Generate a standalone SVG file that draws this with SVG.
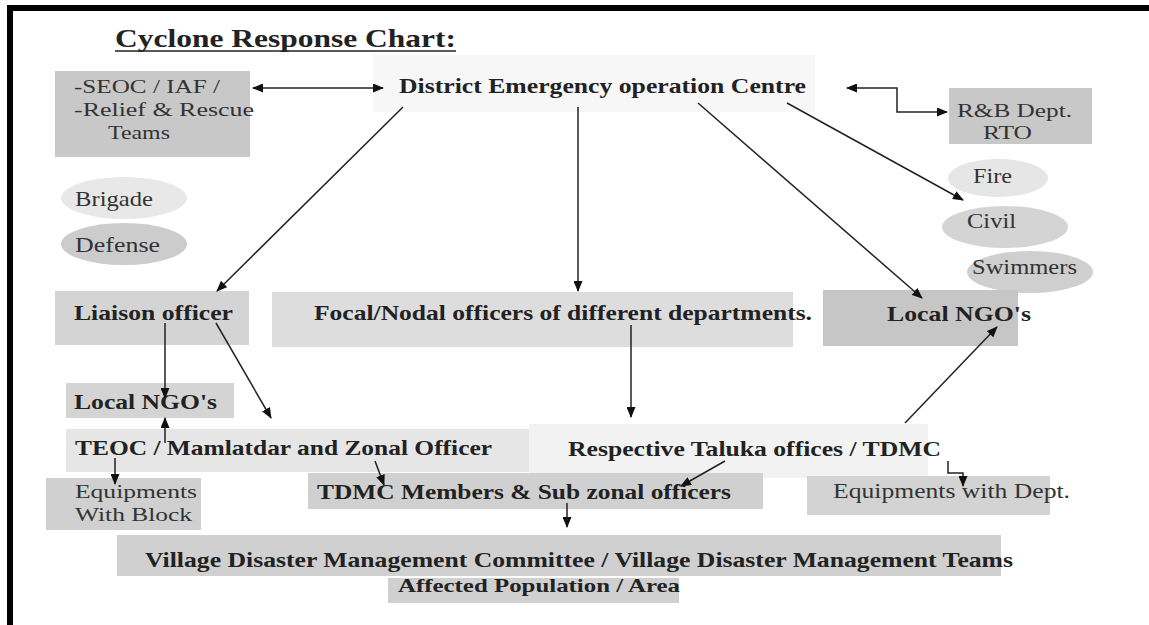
<svg xmlns="http://www.w3.org/2000/svg" width="1149" height="625" viewBox="0 0 1149 625">
<style>
text{font-family:"Liberation Serif","Times New Roman",serif;font-size:21px;fill:#333}
.b{font-weight:bold;fill:#222}
.s{font-size:19px}
.c{stroke:#222;stroke-width:1.5;fill:none}
</style>
<defs>
<marker id="ah" markerWidth="11" markerHeight="9" refX="10" refY="4.5" orient="auto-start-reverse" markerUnits="userSpaceOnUse">
<path d="M0,0 L11,4.5 L0,9 z" fill="#111"/>
</marker>
</defs>
<rect width="1149" height="625" fill="#fff"/>
<rect x="7" y="5" width="1142" height="6" fill="#000"/>
<rect x="7" y="5" width="6" height="620" fill="#000"/>
<g id="title">
<text class="b" x="115" y="47" style="font-size:25px" textLength="341" lengthAdjust="spacingAndGlyphs">Cyclone Response Chart:</text>
<line x1="115" y1="51" x2="456" y2="51" stroke="#222" stroke-width="1.6"/>
</g>
<g id="seoc">
<rect x="55" y="71" width="195" height="86" fill="#c8c8c8"/>
<text class="s" x="74" y="93" textLength="146" lengthAdjust="spacingAndGlyphs">-SEOC / IAF /</text>
<text class="s" x="74" y="116" textLength="180" lengthAdjust="spacingAndGlyphs">-Relief &amp; Rescue</text>
<text class="s" x="108" y="139" textLength="62" lengthAdjust="spacingAndGlyphs">Teams</text>
</g>
<g id="deoc">
<rect x="373" y="55" width="442" height="57" fill="#f7f7f7"/>
<text class="b" x="399" y="93" textLength="407" lengthAdjust="spacingAndGlyphs">District Emergency operation Centre</text>
</g>
<g id="rb">
<rect x="949" y="88" width="143" height="56" fill="#c8c8c8"/>
<text class="s" x="957" y="117" textLength="115" lengthAdjust="spacingAndGlyphs">R&amp;B Dept.</text>
<text class="s" x="983" y="139" textLength="49" lengthAdjust="spacingAndGlyphs">RTO</text>
</g>
<g id="fire">
<ellipse cx="998" cy="178" rx="50" ry="19" fill="#e6e6e6"/>
<text x="973" y="183" textLength="39" lengthAdjust="spacingAndGlyphs">Fire</text>
</g>
<g id="civil">
<ellipse cx="1005" cy="227" rx="63" ry="21" fill="#d4d4d4"/>
<text x="967" y="228" textLength="49" lengthAdjust="spacingAndGlyphs">Civil</text>
</g>
<g id="swimmers">
<ellipse cx="1030" cy="272" rx="63" ry="21" fill="#cfcfcf"/>
<text x="972" y="274" textLength="105" lengthAdjust="spacingAndGlyphs">Swimmers</text>
</g>
<g id="brigade">
<ellipse cx="124" cy="198" rx="63" ry="21" fill="#e8e8e8"/>
<text x="75" y="206" textLength="78" lengthAdjust="spacingAndGlyphs">Brigade</text>
</g>
<g id="defense">
<ellipse cx="124" cy="244" rx="63" ry="21" fill="#cccccc"/>
<text x="75" y="252" textLength="85" lengthAdjust="spacingAndGlyphs">Defense</text>
</g>
<g id="liaison">
<rect x="55" y="291" width="194" height="54" fill="#d4d4d4"/>
<text class="b" x="74" y="320" textLength="159" lengthAdjust="spacingAndGlyphs">Liaison officer</text>
</g>
<g id="focal">
<rect x="272" y="292" width="521" height="55" fill="#dddddd"/>
<text class="b" x="314" y="320" textLength="498" lengthAdjust="spacingAndGlyphs">Focal/Nodal officers of different departments.</text>
</g>
<g id="ngo-right">
<rect x="823" y="290" width="195" height="56" fill="#c6c6c6"/>
<text class="b" x="887" y="321" textLength="144" lengthAdjust="spacingAndGlyphs">Local NGO's</text>
</g>
<g id="ngo-left">
<rect x="66" y="383" width="168" height="35" fill="#d4d4d4"/>
<text class="b" x="74" y="409" textLength="143" lengthAdjust="spacingAndGlyphs">Local NGO's</text>
</g>
<g id="teoc">
<rect x="66" y="429" width="465" height="43" fill="#e6e6e6"/>
<text class="b" x="75" y="455" textLength="417" lengthAdjust="spacingAndGlyphs">TEOC / Mamlatdar and Zonal Officer</text>
</g>
<g id="taluka">
<rect x="529" y="424" width="399" height="54" fill="#f2f2f2"/>
<text class="b" x="568" y="456" textLength="373" lengthAdjust="spacingAndGlyphs">Respective Taluka offices / TDMC</text>
</g>
<g id="equip-block">
<rect x="46" y="478" width="155" height="52" fill="#d0d0d0"/>
<text class="s" x="75" y="498" textLength="122" lengthAdjust="spacingAndGlyphs">Equipments</text>
<text class="s" x="75" y="521" textLength="117" lengthAdjust="spacingAndGlyphs">With Block</text>
</g>
<g id="tdmc">
<rect x="308" y="473" width="455" height="36" fill="#d0d0d0"/>
<text class="b" x="317" y="499" textLength="414" lengthAdjust="spacingAndGlyphs">TDMC Members &amp; Sub zonal officers</text>
</g>
<g id="equip-dept">
<rect x="807" y="476" width="243" height="39" fill="#d3d3d3"/>
<text x="833" y="498" textLength="237" lengthAdjust="spacingAndGlyphs">Equipments with Dept.</text>
</g>
<g id="village">
<rect x="117" y="535" width="884" height="41" fill="#d0d0d0"/>
<text class="b" x="145" y="567" textLength="868" lengthAdjust="spacingAndGlyphs">Village Disaster Management Committee / Village Disaster Management Teams</text>
</g>
<g id="affected">
<rect x="388" y="578" width="291" height="25" fill="#d0d0d0"/>
<text class="b s" x="398" y="592" textLength="282" lengthAdjust="spacingAndGlyphs">Affected Population / Area</text>
</g>
<g id="connectors">
<line class="c" x1="253" y1="88" x2="383" y2="88" marker-start="url(#ah)" marker-end="url(#ah)"/>
<path class="c" d="M847,88 H897 V112 H947" marker-start="url(#ah)" marker-end="url(#ah)"/>
<line class="c" x1="403" y1="107" x2="217" y2="291" marker-end="url(#ah)"/>
<line class="c" x1="578" y1="107" x2="578" y2="291" marker-end="url(#ah)"/>
<line class="c" x1="698" y1="103" x2="922" y2="298" marker-end="url(#ah)"/>
<line class="c" x1="787" y1="103" x2="963" y2="200" marker-end="url(#ah)"/>
<line class="c" x1="165" y1="323" x2="165" y2="398" marker-end="url(#ah)"/>
<line class="c" x1="216" y1="323" x2="271" y2="418" marker-end="url(#ah)"/>
<line class="c" x1="631" y1="325" x2="631" y2="417" marker-end="url(#ah)"/>
<line class="c" x1="905" y1="423" x2="997" y2="327" marker-end="url(#ah)"/>
<line class="c" x1="165" y1="443" x2="165" y2="418" marker-end="url(#ah)"/>
<line class="c" x1="115" y1="458" x2="115" y2="484" marker-end="url(#ah)"/>
<line class="c" x1="375" y1="461" x2="384" y2="485" marker-end="url(#ah)"/>
<line class="c" x1="725" y1="461" x2="681" y2="486" marker-end="url(#ah)"/>
<path class="c" d="M948,461 V473 H963 V486" marker-end="url(#ah)"/>
<line class="c" x1="567" y1="503" x2="567" y2="527" marker-end="url(#ah)"/>
</g>
</svg>
